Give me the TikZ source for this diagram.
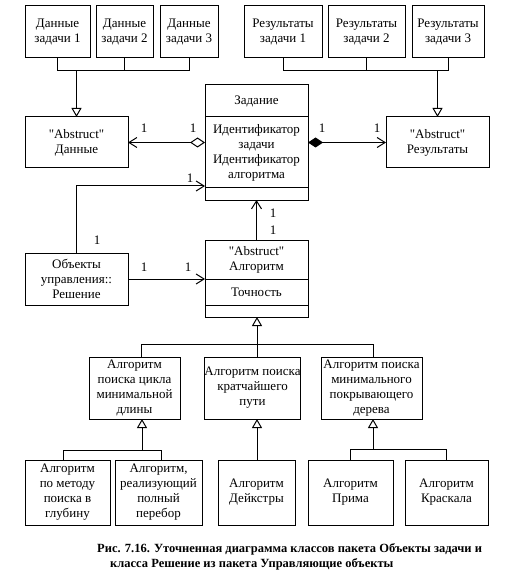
\documentclass[tikz,border=0pt]{standalone}
\usepackage{fontspec}
\setmainfont{Liberation Serif}[Ligatures=TeXOff]
\usetikzlibrary{arrows.meta,calc}
\begin{document}
\begin{tikzpicture}[x=1pt,y=-1pt,
  box/.style={draw,line width=1pt,inner sep=0pt,outer sep=0pt,align=center,font=\fontsize{13}{15}\selectfont},
  txt/.style={inner sep=0pt,align=center,font=\fontsize{13}{15}\selectfont},
  mult/.style={inner sep=0pt,font=\fontsize{13}{15}\selectfont},
  captxt/.style={inner sep=0pt,anchor=west,font=\fontsize{12.5}{15}\selectfont\bfseries},
  ln/.style={line width=1pt},
  gen/.style={ln,-{Triangle[open,length=9pt,width=10pt]}},
  nav/.style={ln,-{Straight Barb[length=8pt,width=10pt]}},
  aggr/.style={ln,{Diamond[open,length=15pt,width=10pt]}-{Straight Barb[length=8pt,width=10pt]}},
  comp/.style={ln,{Diamond[length=15pt,width=10pt]}-{Straight Barb[length=8pt,width=10pt]}},
]
\useasboundingbox[fill=white] (0,0) rectangle (507,577);

% top data boxes
\node[box,minimum width=65pt,minimum height=52pt] (d1) at (57.5,32) {Данные\\задачи 1};
\node[box,minimum width=57pt,minimum height=52pt] (d2) at (124.5,32) {Данные\\задачи 2};
\node[box,minimum width=58pt,minimum height=52pt] (d3) at (189,32) {Данные\\задачи 3};
\node[box,minimum width=78pt,minimum height=52pt] (r1) at (283,32) {Результаты\\задачи 1};
\node[box,minimum width=77pt,minimum height=52pt] (r2) at (366.5,32) {Результаты\\задачи 2};
\node[box,minimum width=72pt,minimum height=52pt] (r3) at (448,32) {Результаты\\задачи 3};

\node[box,minimum width=103pt,minimum height=51pt] (ad) at (76.5,142.5) {"Abstruct"\\Данные};
\node[box,minimum width=103pt,minimum height=51pt] (ar) at (437.5,142.5) {"Abstruct"\\Результаты};

% Задание
\node[box,minimum width=103pt,minimum height=115pt] (zad) at (256.5,142.5) {};
\draw[ln] ($(zad.north west)+(0,32)$) -- ($(zad.north east)+(0,32)$);
\draw[ln] ($(zad.north west)+(0,103)$) -- ($(zad.north east)+(0,103)$);
\node[txt] (zadT) at (256.5,101) {Задание};
\node[txt] (zadA) at (256.5,152.5) {Идентификатор\\задачи\\Идентификатор\\алгоритма};

% Алгоритм
\node[box,minimum width=103pt,minimum height=77pt] (alg) at (256.5,278.5) {};
\draw[ln] ($(alg.north west)+(0,39)$) -- ($(alg.north east)+(0,39)$);
\draw[ln] ($(alg.north west)+(0,65)$) -- ($(alg.north east)+(0,65)$);
\node[txt] (algT) at (256.5,259.5) {"Abstruct"\\Алгоритм};
\node[txt] (algA) at (256.5,292) {Точность};

% Объекты управления
\node[box,minimum width=103pt,minimum height=52pt] (obj) at (76.5,279) {Объекты\\управления::\\Решение};

% middle row
\node[box,minimum width=91pt,minimum height=62pt] (mA) at (134.5,388) {Алгоритм\\поиска цикла\\минимальной\\длины};
\node[box,minimum width=95pt,minimum height=62pt] (mB) at (252.5,388) {Алгоритм поиска\\кратчайшего\\пути};
\node[box,minimum width=101pt,minimum height=62pt] (mC) at (371.5,388) {Алгоритм поиска\\минимального\\покрывающего\\дерева};

% bottom row
\node[box,minimum width=85pt,minimum height=65pt] (e1) at (67.5,492.5) {Алгоритм\\по методу\\поиска в\\глубину};
\node[box,minimum width=87pt,minimum height=65pt] (e2) at (158.5,492.5) {Алгоритм,\\реализующий\\полный\\перебор};
\node[box,minimum width=77pt,minimum height=65pt] (e3) at (256.5,492.5) {Алгоритм\\Дейкстры};
\node[box,minimum width=85pt,minimum height=65pt] (e4) at (350.5,492.5) {Алгоритм\\Прима};
\node[box,minimum width=83pt,minimum height=65pt] (e5) at (446.5,492.5) {Алгоритм\\Краскала};

% generalization: data
\coordinate (jd) at (76.5,71);
\draw[ln] (d1.south) |- (jd);
\draw[ln] (d3.south) |- (jd);
\draw[ln] (d2.south) -- (d2.south |- jd);
\draw[gen] (jd) -- (ad.north);

% generalization: results
\coordinate (jr) at (437.5,71);
\draw[ln] (r1.south) |- (jr);
\draw[ln] (r3.south) |- (jr);
\draw[ln] (r2.south) -- (r2.south |- jr);
\draw[gen] (jr) -- (ar.north);

% associations
\draw[aggr] (zad.west) -- (ad.east);
\draw[comp] (zad.east) -- (ar.west);
\coordinate (jo) at (205,186);
\draw[nav] (obj.north) |- (jo);
\draw[nav] (obj.east) -- (alg.west |- obj.east);
\draw[nav] (alg.north) -- (zad.south);

% generalization: algorithms
\coordinate (jm) at (257,344);
\coordinate (mbL) at (141,344);
\coordinate (mbR) at (373,344);
\draw[ln] (mbL |- mA.north) -- (mbL) -- (mbR) -- (mbR |- mC.north);
\draw[gen] (mB.north -| jm) -- (alg.south -| jm);

\coordinate (ja) at (142,450);
\coordinate (eaL) at (63,450);
\coordinate (eaR) at (161,450);
\draw[ln] (eaL |- e1.north) -- (eaL) -- (eaR) -- (eaR |- e2.north);
\draw[gen] (ja) -- (ja |- mA.south);

\draw[gen] (e3.north -| jm) -- (mB.south -| jm);

\coordinate (jc) at (373,449);
\draw[ln] (e4.north) |- (jc);
\draw[ln] (e5.north) |- (jc);
\draw[gen] (jc) -- (jc |- mC.south);

% multiplicities
\node[mult] (l1) at (144,128) {1};
\node[mult] (l2) at (193,128) {1};
\node[mult] (l3) at (322,128) {1};
\node[mult] (l4) at (377,128) {1};
\node[mult] (l5) at (190,178) {1};
\node[mult] (l6) at (97,240) {1};
\node[mult] (l7) at (144,267) {1};
\node[mult] (l8) at (188,267) {1};
\node[mult] (l9) at (273,213) {1};
\node[mult] (l10) at (273,230) {1};

% caption
\node[captxt] (cap1) at (97,549) {Рис. 7.16. Уточненная диаграмма классов пакета Объекты задачи и};
\node[captxt] (cap2) at (110,564) {класса Решение из пакета Управляющие объекты};
\end{tikzpicture}
\end{document}
